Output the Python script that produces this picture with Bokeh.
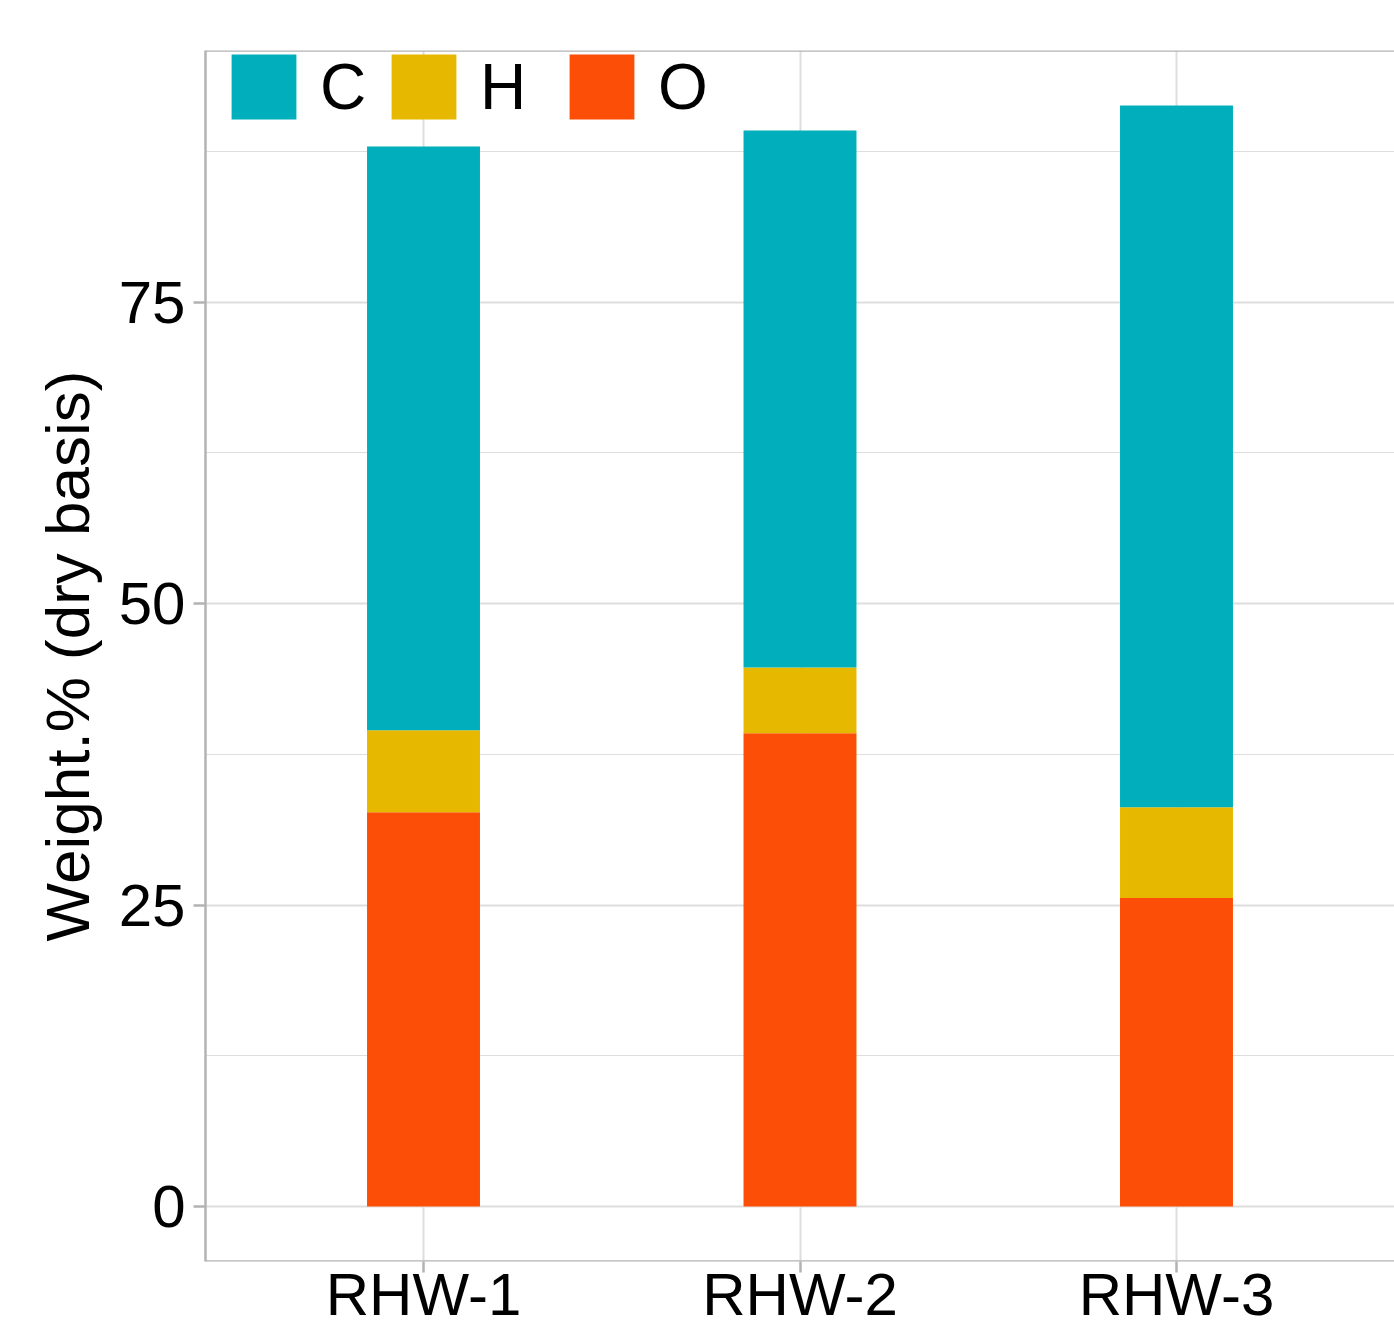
from bokeh.plotting import figure
from bokeh.models import (FactorRange, Range1d, FixedTicker, Legend, LegendItem,
                          Span, ColumnDataSource)
from bokeh.embed import file_html
from bokeh.resources import INLINE

# ---- data ----
samples = ["RHW-1", "RHW-2", "RHW-3"]
legend_order = ["C", "H", "O"]
stack_order = ["O", "H", "C"]
carbon = [48.42, 44.54, 58.20]
hydrogen = [6.79, 5.46, 7.53]
oxygen = [32.70, 39.24, 25.58]
y_ticks = [0, 25, 50, 75]
y_minor_ticks = [12.5, 37.5, 62.5, 87.5]
palette = {"C": "#00AFBB", "H": "#E7B800", "O": "#FC4E07"}
y_label = "Weight.% (dry basis)"

totals = [c + h + o for c, h, o in zip(carbon, hydrogen, oxygen)]
ymax = max(totals)

source = ColumnDataSource(dict(sample=samples, C=carbon, H=hydrogen, O=oxygen))

FONT = "Liberation Sans"
GREY = "#b3b3b3"
GRID = "#dedede"

y_range = Range1d(-0.05 * ymax, 1.05 * ymax)
p = figure(
    x_range=FactorRange(*samples, range_padding=0.0527, range_padding_units="percent"),
    y_range=y_range,
    frame_width=1189, frame_height=1211,
    min_border_left=205, min_border_top=50, min_border_right=0, min_border_bottom=0,
    output_backend="svg", toolbar_location=None,
    background_fill_color="white", border_fill_color="white",
)
p.outline_line_color = None

renderers = p.vbar_stack(
    stack_order, x="sample", width=0.3, source=source,
    fill_color=[palette[k] for k in stack_order], line_color=None,
)
by_key = dict(zip(stack_order, renderers))

# grids
p.xgrid.grid_line_color = GRID
p.xgrid.grid_line_width = 2
p.ygrid.ticker = FixedTicker(ticks=y_ticks, minor_ticks=y_minor_ticks)
p.ygrid.grid_line_color = GRID
p.ygrid.grid_line_width = 2
p.ygrid.minor_grid_line_color = GRID
p.ygrid.minor_grid_line_width = 1

# y axis
p.yaxis.ticker = FixedTicker(ticks=y_ticks, minor_ticks=y_minor_ticks)
p.yaxis.axis_label = y_label
p.yaxis.axis_label_text_font = FONT
p.yaxis.axis_label_text_font_size = "62px"
p.yaxis.axis_label_text_font_style = "normal"
p.yaxis.axis_label_text_color = "black"
p.yaxis.axis_label_standoff = 14
p.yaxis.major_label_text_font = FONT
p.yaxis.major_label_text_font_size = "60px"
p.yaxis.major_label_text_color = "black"
p.yaxis.major_label_standoff = 8
p.yaxis.major_tick_out = 12
p.yaxis.major_tick_in = 0
p.yaxis.minor_tick_out = 0
p.yaxis.minor_tick_in = 0
p.yaxis.axis_line_color = GREY
p.yaxis.axis_line_width = 2.5
p.yaxis.major_tick_line_color = GREY
p.yaxis.major_tick_line_width = 2.5

# x axis
p.xaxis.major_label_text_font = FONT
p.xaxis.major_label_text_font_size = "60px"
p.xaxis.major_label_text_color = "black"
p.xaxis.major_label_standoff = -12
p.xaxis.major_tick_out = 11
p.xaxis.major_tick_in = 0
p.xaxis.axis_line_color = None
p.xaxis.major_tick_line_color = GREY
p.xaxis.major_tick_line_width = 2.5

# top and bottom borders of the panel
p.add_layout(Span(location=y_range.end, dimension="width",
                  line_color=GREY, line_width=2.5))
p.add_layout(Span(location=y_range.start, dimension="width",
                  line_color=GREY, line_width=2.5))

# one legend per key, placed in a row along the top of the panel
legend_x = [18, 178, 356]
for key, lx in zip(legend_order, legend_x):
    lg = Legend(
        items=[LegendItem(label=key, renderers=[by_key[key]])],
        orientation="horizontal", location=(lx, 1134),
        glyph_width=81, glyph_height=81, label_standoff=16, spacing=0,
        label_width=46, label_height=81,
        padding=0, margin=0, border_line_color=None, background_fill_alpha=0,
        label_text_font=FONT, label_text_font_size="64px", label_text_color="black",
    )
    p.add_layout(lg)

open("out.html", "w").write(file_html(p, INLINE))
